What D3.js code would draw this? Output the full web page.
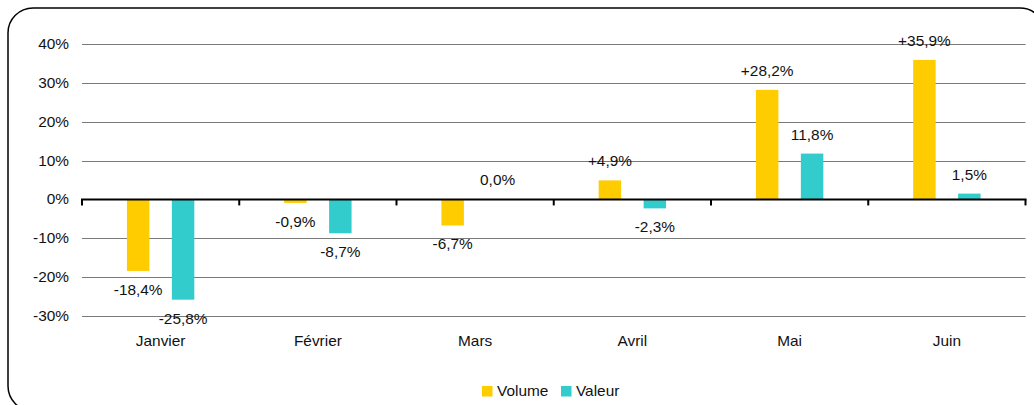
<!DOCTYPE html>
<html><head><meta charset="utf-8">
<script src="https://cdn.jsdelivr.net/npm/d3@7"></script>
<style>
html,body{margin:0;padding:0;background:#fff;}
svg{display:block;}
text{font-family:"Liberation Sans",Arial,sans-serif;font-size:14px;fill:#111;}
</style></head>
<body>
<svg id="chart" width="1034" height="405"></svg>
<script>
const categories = ["Janvier","Février","Mars","Avril","Mai","Juin"];
const seriesNames = ["Volume","Valeur"];
const volume = [-18.4,-0.9,-6.7,4.9,28.2,35.9];
const valeur = [-25.8,-8.7,0.0,-2.3,11.8,1.5];
const volumeLabels = ["-18,4%","-0,9%","-6,7%","+4,9%","+28,2%","+35,9%"];
const valeurLabels = ["-25,8%","-8,7%","0,0%","-2,3%","11,8%","1,5%"];
const yTicks = [-30,-20,-10,0,10,20,30,40];
const yTickLabels = ["-30%","-20%","-10%","0%","10%","20%","30%","40%"];
const colors = ["#FFCC00","#33CCCC"];

const svg = d3.select("#chart");
const SX = 1.1; // horizontal text stretch

// rounded border
svg.append("rect").attr("x",8).attr("y",8).attr("width",1037).attr("height",403)
  .attr("rx",25).attr("ry",25).attr("fill","none").attr("stroke","#000").attr("stroke-width",1.5);

const x0 = d3.scaleBand().domain(categories).range([82,1025.5]).padding(0);
const x1 = d3.scaleBand().domain(seriesNames).range([0,x0.bandwidth()]).paddingInner(0.5).paddingOuter(1);
const y = d3.scaleLinear().domain([-30,40]).range([316,44]);

function stext(sel, xx, yy, anchor, txt){
  return sel.append("text")
    .attr("transform",`translate(${xx},${yy}) scale(${SX},1)`)
    .attr("text-anchor",anchor).text(txt);
}

// grid lines
const g = svg.append("g");
yTicks.forEach((t,i)=>{
  if(t!==0){
    g.append("line").attr("x1",82).attr("x2",1025.5).attr("y1",Math.round(y(t))+0.5).attr("y2",Math.round(y(t))+0.5)
      .attr("stroke","#7a7a7a").attr("stroke-width",1);
  }
  stext(g, 69, y(t)+5, "end", yTickLabels[i]);
});

// bars
const data = [volume, valeur];
const labels = [volumeLabels, valeurLabels];
seriesNames.forEach((s,si)=>{
  categories.forEach((c,ci)=>{
    const v = data[si][ci];
    const bx = x0(c)+x1(s);
    svg.append("rect").attr("x",bx).attr("width",x1.bandwidth())
      .attr("y",Math.min(y(v),y(0))).attr("height",Math.abs(y(v)-y(0)))
      .attr("fill",colors[si]);
  });
});

// zero axis with ticks
const z = y(0);
svg.append("line").attr("x1",81).attr("x2",1026.5).attr("y1",z).attr("y2",z)
  .attr("stroke","#000").attr("stroke-width",2);
categories.concat([null]).forEach((c,i)=>{
  const tx = c===null ? x0.range()[1] : x0(c);
  svg.append("line").attr("x1",tx).attr("x2",tx).attr("y1",z).attr("y2",z+6)
    .attr("stroke","#000").attr("stroke-width",2);
});

// value labels
seriesNames.forEach((s,si)=>{
  categories.forEach((c,ci)=>{
    const v = data[si][ci];
    const cx = x0(c)+x1(s)+x1.bandwidth()/2;
    const ly = v>=0 ? y(v)-14 : y(v)+24;
    stext(svg, cx, ly, "middle", labels[si][ci]);
  });
});

// category labels
categories.forEach(c=>{
  stext(svg, x0(c)+x0.bandwidth()/2, 346, "middle", c);
});

// legend
const leg = svg.append("g");
const legX = [482, 561];
seriesNames.forEach((s,i)=>{
  leg.append("rect").attr("x",legX[i]).attr("y",386).attr("width",10.5).attr("height",10.5).attr("fill",colors[i]);
  stext(leg, legX[i]+15, 396, "start", s);
});
</script>
</body></html>
